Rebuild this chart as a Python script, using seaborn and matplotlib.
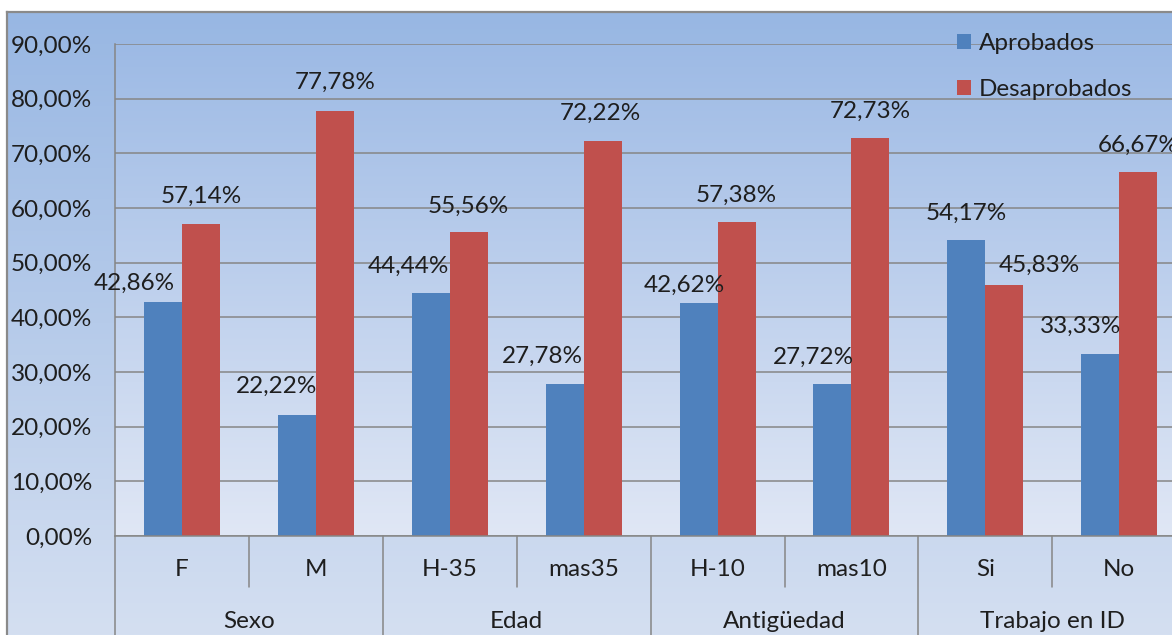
import numpy as np
import pandas as pd
import seaborn as sns
import matplotlib.pyplot as plt
from matplotlib.ticker import FuncFormatter
from matplotlib.transforms import blended_transform_factory

# datos
grupos = ['Sexo', 'Edad', 'Antigüedad', 'Trabajo en ID']
categorias = ['F', 'M', 'H-35', 'mas35', 'H-10', 'mas10', 'Si', 'No']
aprobados = [42.86, 22.22, 44.44, 27.78, 42.62, 27.72, 54.17, 33.33]
desaprobados = [57.14, 77.78, 55.56, 72.22, 57.38, 72.73, 45.83, 66.67]
series = ['Aprobados', 'Desaprobados']
colores = ['#4F81BD', '#C0504D']
yticks = list(range(0, 91, 10))

# desplazamiento de las etiquetas (px) como en Excel
dx_apr = [-29, -20, -22, -22, -14, -19, 0, -20]
dy_apr = [18, 28, 27, 28, 18, 27, 27, 27]
dx_des = [0, 0, 0, -2, 0, 0, 35, 0]
dy_des = [27, 28, 26, 28, 27, 27, 20, 26]

df = pd.DataFrame({
    'categoria': categorias * 2,
    'serie': [series[0]] * len(categorias) + [series[1]] * len(categorias),
    'valor': aprobados + desaprobados,
})

sns.set_theme(style='white')
plt.rcParams['font.family'] = ['Lato', 'DejaVu Sans']
TXT = '#1e1e1e'
GRIS = '#868686'
FS = 17.5
PX = 0.72  # pt por pixel a 100 dpi

W, H = 1172, 635
fig = plt.figure(figsize=(W / 100, H / 100), dpi=100)
fig.patch.set_facecolor('white')


def gradiente(c_top, c_bot, n=256):
    t = np.linspace(0, 1, n)[:, None]
    a = np.array(c_top) / 255.0
    b = np.array(c_bot) / 255.0
    return (a + (b - a) * t).reshape(n, 1, 3)


# fondo del area del grafico
bg = fig.add_axes([7 / W, 0, 1 - 7 / W, (H - 12) / H])
bg.imshow(gradiente((152, 183, 227), (212, 223, 241)), aspect='auto',
          extent=[0, 1, 0, 1], transform=bg.transAxes)
bg.set_xticks([])
bg.set_yticks([])
for s in ['right', 'bottom']:
    bg.spines[s].set_visible(False)
for s in ['left', 'top']:
    bg.spines[s].set_color('#8a8a8a')
    bg.spines[s].set_linewidth(1.6)
bg.set_zorder(-10)

# area de trazado
ax = fig.add_axes([115 / W, (H - 536) / H, 8 * 133.9 / W, 492 / H])
ax.patch.set_alpha(0)
ax.imshow(gradiente((157, 186, 229), (224, 231, 245)), aspect='auto',
          extent=[0, 1, 0, 1], transform=ax.transAxes, zorder=0)

sns.barplot(data=df, x='categoria', y='valor', hue='serie', order=categorias,
            hue_order=series, palette=colores, width=0.567, gap=0,
            saturation=1, errorbar=None, linewidth=0, ax=ax, zorder=2)

ax.set_xlim(-0.5, len(categorias) - 0.5)
ax.set_ylim(0, 90)
ax.set_yticks(yticks)
ax.yaxis.set_major_formatter(FuncFormatter(lambda v, _: f'{v:.2f}%'.replace('.', ',')))
ax.yaxis.grid(True, color=GRIS, lw=1.1)
ax.set_axisbelow(True)
ax.set_xlabel('')
ax.set_ylabel('')
ax.tick_params(axis='x', length=0, labelbottom=False)
ax.tick_params(axis='y', length=4.3, width=1.1, color=GRIS, pad=12,
               labelsize=FS, labelcolor=TXT)
for s in ['top', 'right']:
    ax.spines[s].set_visible(False)
for s in ['left', 'bottom']:
    ax.spines[s].set_color(GRIS)
    ax.spines[s].set_linewidth(1.1)

# etiquetas de datos
for k, (vals, dxs, dys) in enumerate([(aprobados, dx_apr, dy_apr),
                                      (desaprobados, dx_des, dy_des)]):
    for i, v in enumerate(vals):
        bar = ax.containers[k][i]
        ax.annotate(f'{v:.2f}%'.replace('.', ','),
                    xy=(bar.get_x() + bar.get_width() / 2, bar.get_height()),
                    xytext=(dxs[i] * PX, dys[i] * PX), textcoords='offset points',
                    ha='center', va='center', fontsize=FS, color=TXT)

# eje de categorias en dos niveles
tr = blended_transform_factory(ax.transData, ax.transAxes)
y_sub = -(570 - 536) / 492
y_grp = -(622 - 536) / 492
y_corte = -(587 - 536) / 492
for i, c in enumerate(categorias):
    ax.text(i, y_sub, c, transform=tr, ha='center', va='center',
            fontsize=FS, color=TXT)
for g, nombre in enumerate(grupos):
    ax.text(2 * g + 0.5, y_grp, nombre, transform=tr, ha='center',
            va='center', fontsize=FS, color=TXT)
for i in range(len(categorias)):
    x = i - 0.5
    y_fin = -0.3 if i % 2 == 0 else y_corte
    ax.plot([x, x], [0, y_fin], transform=tr, color=GRIS, lw=1.1,
            clip_on=False, zorder=3)

# leyenda
handles, labels = ax.get_legend_handles_labels()
ax.legend(handles, labels, loc='upper left',
          bbox_to_anchor=(957 / W, 1 - 33 / H), bbox_transform=fig.transFigure,
          frameon=False, fontsize=FS, handlelength=0.58, handleheight=0.58,
          handletextpad=0.33, labelspacing=1.03, borderpad=0, borderaxespad=0,
          labelcolor=TXT)

fig.savefig('out.png', dpi=100)
